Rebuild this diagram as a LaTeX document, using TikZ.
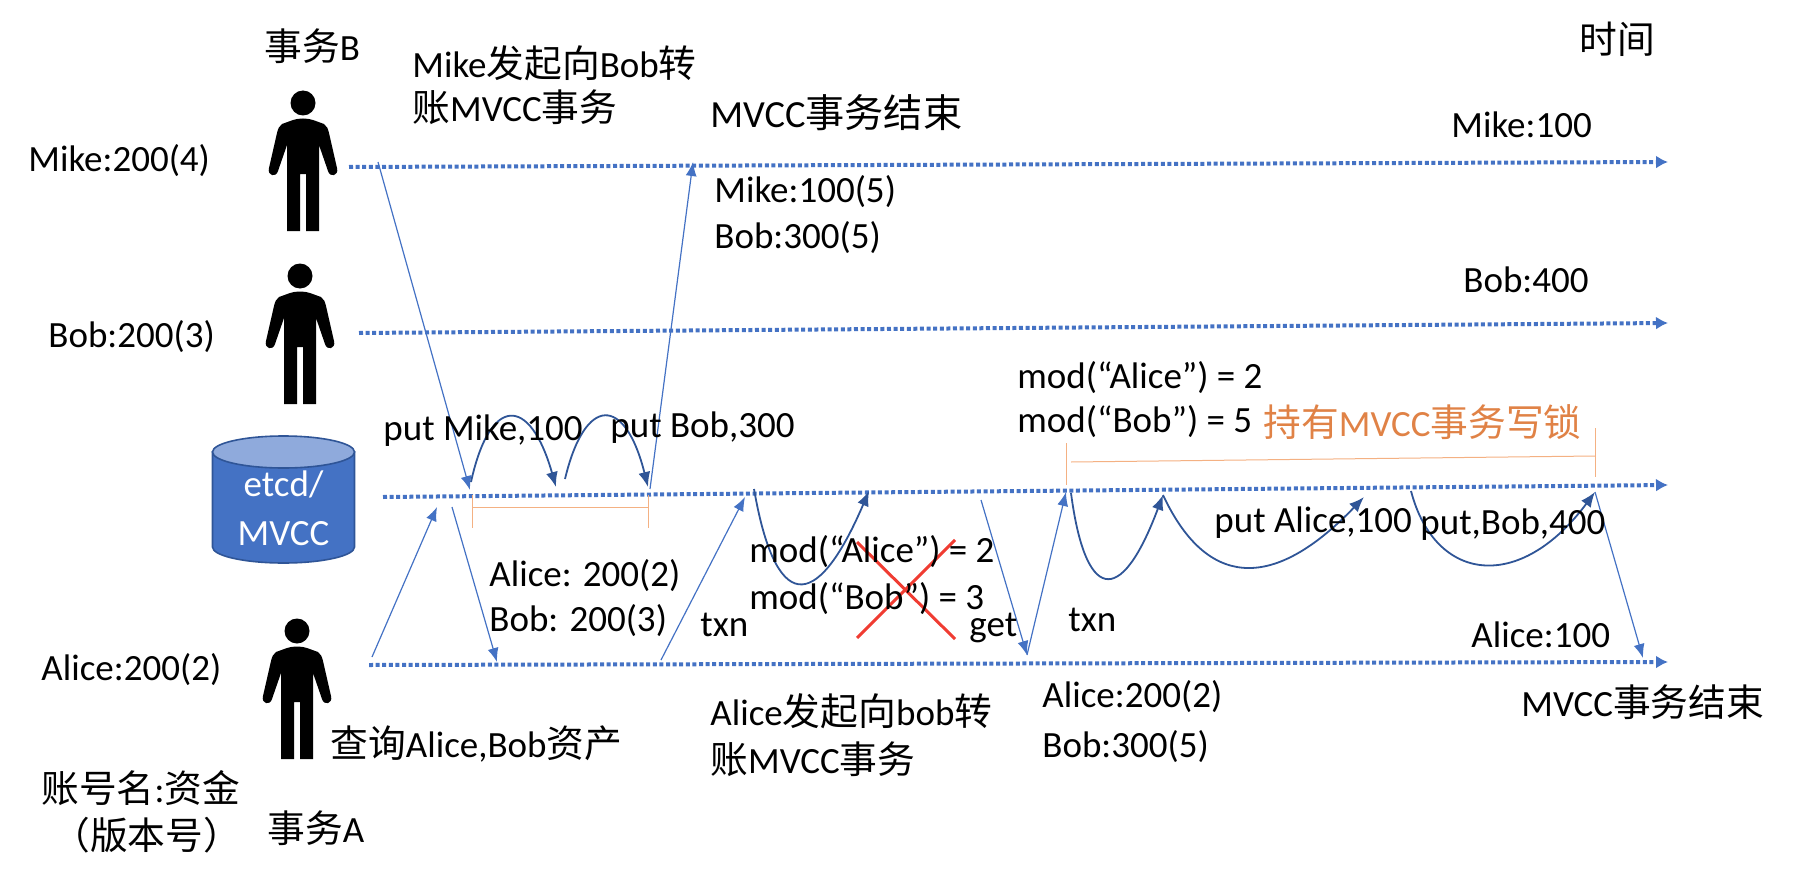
\documentclass[tikz,border=0pt]{standalone}
\usepackage{fontspec}
\setmainfont{Carlito}
\newfontfamily\cjk[Scale=1.02]{Noto Sans CJK SC}
\newcommand{\zh}[1]{{\cjk #1}}
\usetikzlibrary{arrows.meta}
\definecolor{LineBlue}{RGB}{68,114,196}
\definecolor{DarkBlue}{RGB}{47,85,151}
\definecolor{LightBlue}{RGB}{143,170,220}
\definecolor{LockOrange}{RGB}{244,177,131}
\definecolor{LockText}{RGB}{224,130,70}
\definecolor{CrossRed}{RGB}{240,60,50}
\tikzset{
  lbl/.style={anchor=west,inner sep=0pt,font=\fontsize{18.5}{22}\selectfont},
  timeline/.style={LineBlue,line width=2pt,dash pattern=on 2pt off 1.3pt,-{Latex[length=6pt,width=6.5pt]}},
  msg/.style={LineBlue,line width=.6pt,-{Latex[length=7pt,width=5.5pt]}},
  hop/.style={DarkBlue,line width=.9pt,-{Latex[length=7.5pt,width=6pt]}},
  lock/.style={LockOrange,line width=.5pt},
  cross/.style={CrossRed,line width=1.5pt},
  person/.pic={
    \fill (0,0) circle (12.5);
    \fill (-10,17) .. controls (-4,15) and (4,15) .. (10,17) -- (21,21) .. controls (24,23) and (25,26) .. (26,30)
      -- (34,65) .. controls (36,73) and (27,75) .. (25,68) -- (16,42) -- (16,128) -- (3,128) -- (3,71) -- (-3,71) -- (-3,128) -- (-16,128) -- (-16,42)
      -- (-25,68) .. controls (-27,75) and (-36,73) .. (-34,65) -- (-26,30) .. controls (-25,26) and (-24,23) .. (-21,21) -- cycle;
  }
}
\begin{document}
\begin{tikzpicture}[x=.5pt,y=-.5pt]
\useasboundingbox (0,0) rectangle (1804,872);
% people and the store
\pic (mike) at (303,103) {person};
\pic (bob) at (300,276) {person};
\pic (alice) at (297,631) {person};
\draw[DarkBlue,line width=.8pt,fill=LineBlue] (212.5,452) -- (212.5,547) arc (180:0:71 and 16) -- (354.5,452) -- cycle;
\draw[DarkBlue,line width=.8pt,fill=LightBlue] (283.5,452) ellipse (71 and 16);
\node[lbl,anchor=center,align=center,text=white] (etcdTxt) at (283.5,508) {etcd/\\[2.5pt]MVCC};
% time lines
\coordinate (mikeA) at (349,167);\coordinate (mikeB) at (1668,162);
\coordinate (bobA) at (359,333);\coordinate (bobB) at (1668,323);
\coordinate (etcdA) at (383,497);\coordinate (etcdB) at (1668,485);
\coordinate (aliceA) at (369,665);\coordinate (aliceB) at (1668,662);
\draw[timeline] (mikeA)--(mikeB);
\draw[timeline] (bobA)--(bobB);
\draw[timeline] (etcdA)--(etcdB);
\draw[timeline] (aliceA)--(aliceB);
% messages between the lines
\coordinate (m1a) at (378,162);\coordinate (m1b) at (470,490);
\coordinate (m2a) at (650,489);\coordinate (m2b) at (693,162);
\coordinate (m3a) at (372,657);\coordinate (m3b) at (437,507);
\coordinate (m4a) at (452,507);\coordinate (m4b) at (497,662);
\coordinate (m5a) at (661,660);\coordinate (m5b) at (745,497);
\coordinate (m6a) at (981,500);\coordinate (m6b) at (1027,655);
\coordinate (m7b) at (1066,492);
\coordinate (m8a) at (1595,492);\coordinate (m8b) at (1643,658);
\draw[msg] (m1a)--(m1b);
\draw[msg] (m2a)--(m2b);
\draw[msg] (m3a)--(m3b);
\draw[msg] (m4a)--(m4b);
\draw[msg] (m5a)--(m5b);
\draw[msg] (m6a)--(m6b);
\draw[msg] (m6b)--(m7b);
\draw[msg] (m8a)--(m8b);
% hops on the store line
\coordinate (h1a) at (471,482);\coordinate (h1b) at (556,487);
\coordinate (h2a) at (565,479);\coordinate (h2b) at (648,487);
\coordinate (h3a) at (754,489);\coordinate (h3b) at (869,491);
\coordinate (h4a) at (1071,493);\coordinate (h4b) at (1163,495);
\coordinate (h5b) at (1364,497);
\coordinate (h6a) at (1411,491);\coordinate (h6b) at (1595,492);
\draw[hop] (h1a) .. controls (490,395) and (530,395) .. (h1b);
\draw[hop] (h2a) .. controls (585,395) and (625,395) .. (h2b);
\draw[hop] (h3a) .. controls (775,610) and (815,617) .. (h3b);
\draw[hop] (h4a) .. controls (1085,600) and (1120,610) .. (h4b);
\draw[hop] (h4b) .. controls (1205,585) and (1270,595) .. (h5b);
\draw[hop] (h6a) .. controls (1435,583) and (1520,593) .. (h6b);
% write lock spans
\coordinate (l1a) at (472,495);\coordinate (l1b) at (472,528);\coordinate (l1c) at (472,507);
\coordinate (l2a) at (648,495);\coordinate (l2b) at (648,528);\coordinate (l2c) at (648,507);
\coordinate (l3a) at (1066,443);\coordinate (l3b) at (1066,485);\coordinate (l3c) at (1071,462);
\coordinate (l4a) at (1595,428);\coordinate (l4b) at (1595,477);\coordinate (l4c) at (1595,456);
\draw[lock] (l1a)--(l1b);\draw[lock] (l2a)--(l2b);\draw[lock] (l1c)--(l2c);
\draw[lock] (l3a)--(l3b);\draw[lock] (l4a)--(l4b);\draw[lock] (l3c)--(l4c);
% failed check
\coordinate (x1a) at (857,542);\coordinate (x1b) at (955,639);
\coordinate (x2a) at (857,638);\coordinate (x2b) at (955,540);
\draw[cross] (x1a)--(x1b);\draw[cross] (x2a)--(x2b);
% labels
\node[lbl] (txB) at (264,46) {\zh{事务}B};
\node[lbl] (start1) at (412,63) {Mike\zh{发起向}Bob\zh{转}};
\node[lbl] (start2) at (412,107) {\zh{账}MVCC\zh{事务}};
\node[lbl,font=\fontsize{19.2}{22}\selectfont] (end1) at (710,113) {MVCC\zh{事务结束}};
\node[lbl] (clock) at (1579,39) {\zh{时间}};
\node[lbl] (mike100) at (1451,125) {Mike:100};
\node[lbl] (mike5) at (714,192) {Mike:100(5)};
\node[lbl] (bob5) at (714,238) {Bob:300(5)};
\node[lbl] (bob400) at (1463,280) {Bob:400};
\node[lbl] (mike4) at (28,161) {Mike:200(4)};
\node[lbl] (bob3) at (48,337) {Bob:200(3)};
\node[lbl] (alice2) at (41,670) {Alice:200(2)};
\node[lbl] (putM) at (383,431) {put Mike,100};
\node[lbl] (putB) at (610,428) {put Bob,300};
\node[lbl] (modA) at (1017,378) {mod(“Alice”) = 2};
\node[lbl] (modB) at (1017,422) {mod(“Bob”) = 5};
\node[lbl,text=LockText] (hold) at (1263,422) {\zh{持有}MVCC\zh{事务写锁}};
\node[lbl] (readA) at (489,576) {Alice: 200(2)};
\node[lbl] (readB) at (489,621) {Bob: 200(3)};
\node[lbl] (txn1) at (700,625) {txn};
\node[lbl] (oldA) at (749,552) {mod(“Alice”) = 2};
\node[lbl] (oldB) at (749,599) {mod(“Bob”) = 3};
\node[lbl] (get) at (969,628) {get};
\node[lbl] (txn2) at (1068,620) {txn};
\node[lbl] (putA) at (1214,523) {put Alice,100};
\node[lbl] (putB2) at (1420,525) {put,Bob,400};
\node[lbl] (alice100) at (1471,635) {Alice:100};
\node[lbl] (got1) at (1042,697) {Alice:200(2)};
\node[lbl] (got2) at (1042,747) {Bob:300(5)};
\node[lbl] (end2) at (1521,702) {MVCC\zh{事务结束}};
\node[lbl] (start3) at (710,711) {Alice\zh{发起向}bob\zh{转}};
\node[lbl] (start4) at (710,759) {\zh{账}MVCC\zh{事务}};
\node[lbl] (query) at (330,744) {\zh{查询}Alice,Bob\zh{资产}};
\node[lbl] (legend1) at (41,788) {\zh{账号名}:\zh{资金}};
\node[lbl] (legend2) at (52,835) {\zh{（版本号）}};
\node[lbl] (txA) at (267,828) {\zh{事务}A};
\end{tikzpicture}
\end{document}
